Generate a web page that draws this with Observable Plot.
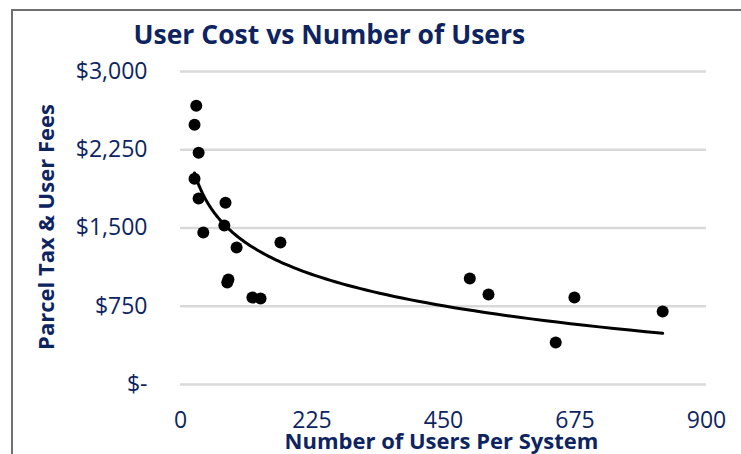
<!DOCTYPE html>
<html>
<head>
<meta charset="utf-8">
<script src="https://cdn.jsdelivr.net/npm/d3@7"></script>
<script src="https://cdn.jsdelivr.net/npm/@observablehq/plot@0.6"></script>
<style>
  html, body { margin: 0; padding: 0; background: #fff; }
  #wrap { position: relative; width: 741px; height: 454px; overflow: hidden; }
  #border { position: absolute; left: 11px; top: 9px; width: 800px; height: 500px;
            border-top: 2px solid #6f6f6f; border-left: 2px solid #6f6f6f; pointer-events: none; }
</style>
</head>
<body>
<div id="wrap"><div id="border"></div></div>
<script>
// ---- data ----
const title = "User Cost vs Number of Users";
const yLabel = "Parcel Tax & User Fees";
const xLabel = "Number of Users Per System";
const users = [27, 24, 31, 24, 31, 77, 75, 39, 96, 171, 80, 82, 123, 137, 495, 527, 674, 825, 642];
const cost  = [2672, 2490, 2222, 1973, 1782, 1743, 1523, 1456, 1312, 1360, 977, 1006, 833, 824, 1015, 862, 833, 699, 402];
const xTicks = [0, 225, 450, 675, 900];
const yTicks = [0, 750, 1500, 2250, 3000];

const data = users.map((u, i) => ({users: u, cost: cost[i]}));

// logarithmic least-squares trendline fitted to the points (as the spreadsheet does)
const L = users.map(Math.log);
const mL = d3.mean(L), mY = d3.mean(cost);
const b = d3.sum(L, (l, i) => (l - mL) * (cost[i] - mY)) / d3.sum(L, l => (l - mL) ** 2);
const a = mY - b * mL;
const xmin = d3.min(users), xmax = d3.max(users);
const trend = d3.range(0, 101).map(k => {
  const x = xmin * Math.pow(xmax / xmin, k / 100);
  return {users: x, cost: a + b * Math.log(x)};
});

const navy = "#0d2461";
const fmt = d3.format(",");

const chart = Plot.plot({
  width: 741,
  height: 454,
  marginTop: 71,
  marginBottom: 70,
  marginLeft: 180,
  marginRight: 35,
  style: {fontFamily: "'Open Sans', sans-serif", fontSize: "23px", color: navy, background: "white"},
  x: {domain: [0, 900]},
  y: {domain: [0, 3000]},
  marks: [
    Plot.ruleY(yTicks, {stroke: "#d9d9d9", strokeWidth: 2.5}),
    Plot.axisY(yTicks, {tickSize: 0, tickPadding: 33, label: null, fill: navy, fontSize: 23,
      tickFormat: d => d === 0 ? "$-" : "$" + fmt(d)}),
    Plot.axisX(xTicks, {tickSize: 0, tickPadding: 27, label: null, fill: navy, fontSize: 23}),
    Plot.line(trend, {x: "users", y: "cost", stroke: "black", strokeWidth: 3}),
    Plot.dot(data, {x: "users", y: "cost", r: 6, fill: "black", stroke: "none"}),
    Plot.text([title], {frameAnchor: "top-left", textAnchor: "start", lineAnchor: "middle",
      dx: -47, dy: -35.5, fontSize: 26.5, fontWeight: "bold", fill: navy}),
    Plot.text([yLabel], {frameAnchor: "left", textAnchor: "middle", rotate: -90, lineAnchor: "middle",
      dx: -134, dy: -1, fontSize: 22, fontWeight: "bold", fill: navy}),
    Plot.text([xLabel], {frameAnchor: "bottom", textAnchor: "middle", lineAnchor: "middle",
      dx: -2, dy: 57, fontSize: 22, fontWeight: "bold", fill: navy})
  ]
});
document.getElementById("wrap").prepend(chart);
</script>
</body>
</html>
